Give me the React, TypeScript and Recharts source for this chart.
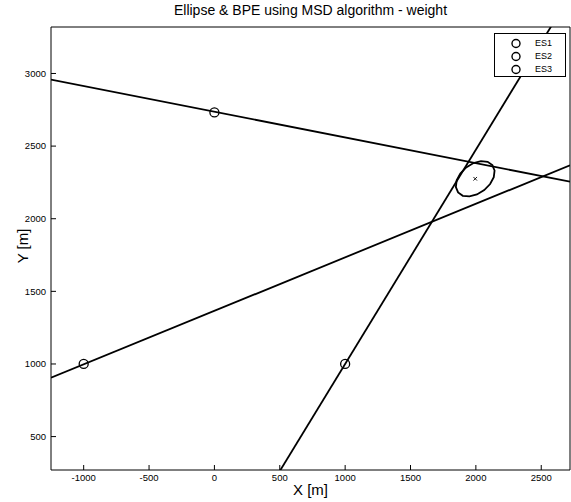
import React from 'react';
import { ComposedChart, Line, Scatter, XAxis, YAxis } from 'recharts';

const xTicks = [-1000, -500, 0, 500, 1000, 1500, 2000, 2500];
const yTicks = [500, 1000, 1500, 2000, 2500, 3000];
const xDomain = [-1250, 2720];
const yDomain = [270, 3320];

const stationX = [0, -1000, 1000];
const stationY = [2732, 1000, 1000];
const stations = stationX.map((x, i) => ({ x, y: stationY[i] }));

const bearing1 = [{ x: -1250, y: 2958 }, { x: 2720, y: 2255 }];
const bearing2 = [{ x: -1250, y: 905 }, { x: 2720, y: 2368 }];
const bearing3 = [{ x: 480, y: 233 }, { x: 2600, y: 3360 }];

const ellipseX = [2126, 2143, 2137, 2109, 2064, 2008, 1951, 1900, 1864, 1847, 1853, 1881, 1926, 1982, 2039, 2090];
const ellipseY = [2369, 2332, 2286, 2239, 2197, 2167, 2154, 2158, 2181, 2218, 2264, 2311, 2353, 2383, 2396, 2392];
const ellipse = ellipseX.map((x, i) => ({ x, y: ellipseY[i] }));

const estimate = [{ x: 1995, y: 2275 }];

const legendLabels = ['ES1', 'ES2', 'ES3'];

const FONT = '"Liberation Sans", Arial, Helvetica, sans-serif';

const tickStyle = { fontSize: 9.5, fill: '#000', fontFamily: FONT };

const StationMarker = (props: any) => {
  const { cx, cy } = props;
  return <circle cx={cx} cy={cy} r={4.5} fill="none" stroke="#000" strokeWidth={1.3} />;
};

const CrossMarker = (props: any) => {
  const { cx, cy } = props;
  const s = 1.8;
  return (
    <g stroke="#000" strokeWidth={0.9}>
      <line x1={cx - s} y1={cy - s} x2={cx + s} y2={cy + s} />
      <line x1={cx - s} y1={cy + s} x2={cx + s} y2={cy - s} />
    </g>
  );
};

export default function App() {
  return (
    <div style={{ position: 'absolute', left: 0, top: 0, width: 571, height: 502, background: '#fff', fontFamily: FONT }}>
      <ComposedChart width={571} height={502} margin={{ top: 26, right: 0, bottom: 0, left: 0 }}>
        <XAxis
          dataKey="x"
          type="number"
          domain={xDomain}
          ticks={xTicks}
          allowDataOverflow
          interval={0}
          height={32}
          tickSize={-5}
          tickMargin={9}
          tick={tickStyle}
          axisLine={{ stroke: '#000', strokeWidth: 1 }}
          tickLine={{ stroke: '#000' }}
        />
        <XAxis
          xAxisId="top"
          orientation="top"
          type="number"
          domain={xDomain}
          ticks={xTicks}
          allowDataOverflow
          interval={0}
          height={1}
          tickSize={-5}
          tick={false}
          axisLine={{ stroke: '#000', strokeWidth: 1 }}
          tickLine={{ stroke: '#000' }}
        />
        <YAxis
          dataKey="y"
          type="number"
          domain={yDomain}
          ticks={yTicks}
          allowDataOverflow
          interval={0}
          width={51}
          tickSize={-5}
          tickMargin={10}
          tick={tickStyle}
          axisLine={{ stroke: '#000', strokeWidth: 1 }}
          tickLine={{ stroke: '#000' }}
        />
        <YAxis
          yAxisId="right"
          orientation="right"
          type="number"
          domain={yDomain}
          ticks={yTicks}
          allowDataOverflow
          interval={0}
          width={1}
          tickSize={-5}
          tick={false}
          axisLine={{ stroke: '#000', strokeWidth: 1 }}
          tickLine={{ stroke: '#000' }}
        />
        <Line data={bearing1} dataKey="y" stroke="#000" strokeWidth={1.8} dot={false} isAnimationActive={false} type="linear" />
        <Line data={bearing2} dataKey="y" stroke="#000" strokeWidth={1.8} dot={false} isAnimationActive={false} type="linear" />
        <Line data={bearing3} dataKey="y" stroke="#000" strokeWidth={1.8} dot={false} isAnimationActive={false} type="linear" />
        <Line data={ellipse} dataKey="y" stroke="#000" strokeWidth={1.8} dot={false} isAnimationActive={false} type="linearClosed" />
        <Scatter data={stations} dataKey="y" shape={StationMarker} isAnimationActive={false} />
        <Scatter data={estimate} dataKey="y" shape={CrossMarker} isAnimationActive={false} />
      </ComposedChart>

      <div style={{ position: 'absolute', left: 51, width: 519, top: 2, textAlign: 'center', fontSize: 14, color: '#000', whiteSpace: 'nowrap' }}>
        Ellipse &amp; BPE using MSD algorithm - weight
      </div>
      <div style={{ position: 'absolute', left: 51, width: 519, top: 481, textAlign: 'center', fontSize: 15, color: '#000' }}>
        X [m]
      </div>
      <div style={{ position: 'absolute', left: 22, top: 246, transform: 'translate(-50%, -50%) rotate(-90deg)', fontSize: 15, color: '#000', whiteSpace: 'nowrap' }}>
        Y [m]
      </div>

      <div style={{ position: 'absolute', left: 494, top: 33, width: 72, height: 44, border: '1px solid #000', background: '#fff', boxSizing: 'border-box' }}>
        {legendLabels.map((label, i) => (
          <div key={label} style={{ position: 'absolute', left: 0, top: 3 + i * 13, height: 13, width: 70, display: 'flex', alignItems: 'center' }}>
            <svg width={40} height={13} style={{ display: 'block' }}>
              <circle cx={21} cy={6.5} r={4} fill="none" stroke="#000" strokeWidth={1.4} />
            </svg>
            <span style={{ fontSize: 9, color: '#000', lineHeight: '13px' }}>{label}</span>
          </div>
        ))}
      </div>
    </div>
  );
}
